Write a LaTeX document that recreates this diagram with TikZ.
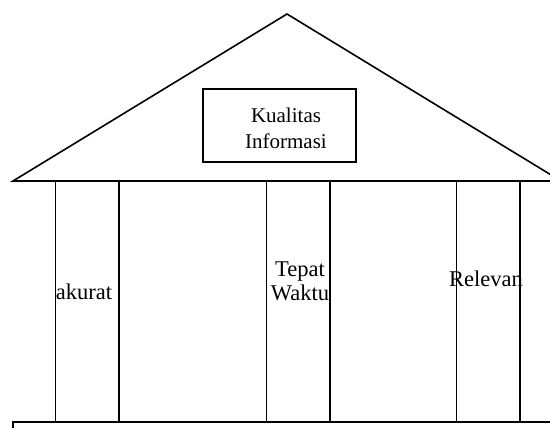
\documentclass[tikz,border=0pt]{standalone}
\usepackage{fontspec}
\setmainfont{Liberation Serif}
\begin{document}
\begin{tikzpicture}[x=1pt,y=1pt,
  edge/.style={draw=black,line width=1.6pt,line join=miter},
  lbl/.style={font=\fontsize{22.5}{24}\selectfont,align=center,inner sep=0pt},
  titlebox/.style={draw=black,line width=1.6pt,minimum width=153pt,minimum height=73pt,inner sep=0pt},
  titletext/.style={align=center,inner sep=0pt,font=\fontsize{21}{26}\selectfont}]
\useasboundingbox (0,0) rectangle (550,428);
\clip (0,0) rectangle (550,428);
\fill[white] (0,0) rectangle (550,428);
% roof
\coordinate (apex) at (287,414);
\coordinate (rl) at (13,247);
\coordinate (rr) at (561,247);
\draw[edge] (rl) -- (apex) -- (rr) -- cycle;
% title box
\node[titlebox] (title) at (279.5,302.5) {};
\node[titletext] (titlet) at (286,300) {Kualitas\\Informasi};
% pillars
\draw[edge] (55.5,247) rectangle (119,6);
\draw[edge] (266.5,247) rectangle (330,6);
\draw[edge] (456.5,247) rectangle (520,6);
% base
\draw[edge] (13,-20) -- (13,6) -- (600,6);
% labels
\node[lbl] (akurat) at (84,136) {akurat};
\node[lbl] (tepat) at (300,147) {Tepat\\Waktu};
\node[lbl] (relevan) at (486,149) {Relevan};
\end{tikzpicture}
\end{document}
